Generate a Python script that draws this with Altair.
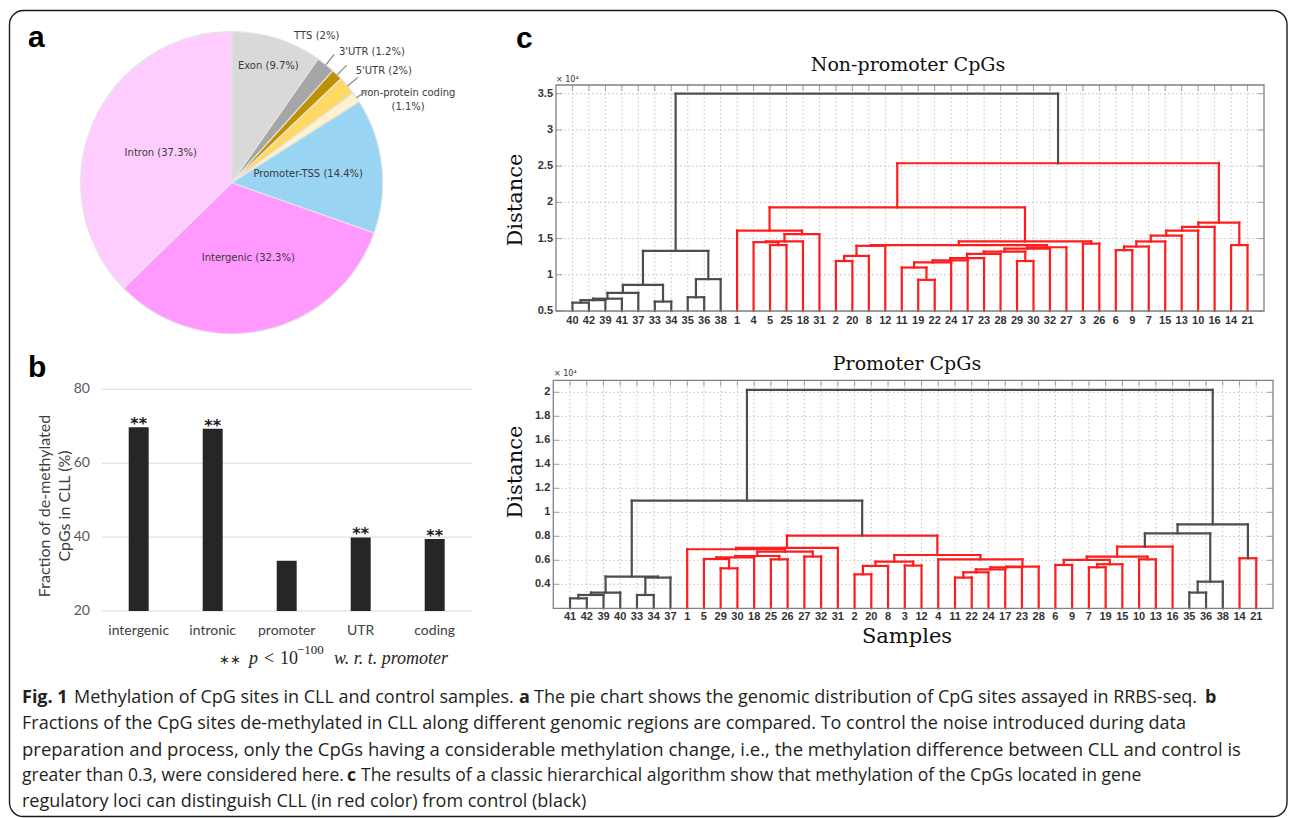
import altair as alt
import pandas as pd

# ----------------------------------------------------------------- data
# panel a : genomic distribution of CpG sites (pie)
pie_names = ["Exon", "TTS", "3'UTR", "5'UTR", "non-protein coding",
             "Promoter-TSS", "Intergenic", "Intron"]
pie_values = [9.7, 2, 1.2, 2, 1.1, 14.4, 32.3, 37.3]
pie_colors = ["#d9d9d9", "#a6a6a6", "#bf9000", "#ffd966", "#fff2cc",
              "#99d4f2", "#ff99ff", "#ffccff"]

# panel b : fraction of de-methylated CpGs
bar_cats = ["intergenic", "intronic", "promoter", "UTR", "coding"]
bar_values = [69.7, 69.3, 33.6, 39.9, 39.5]
bar_stars = ["**", "**", "", "**", "**"]
bar_ticks = [20, 40, 60, 80]

# panel c : dendrograms (leaf order + merges: id, left, right, height(x1e4), group)
np_leaves = [40, 42, 39, 41, 37, 33, 34, 35, 36, 38, 1, 4, 5, 25, 18, 31, 2, 20, 8, 12,
             11, 19, 22, 24, 17, 23, 28, 29, 30, 32, 27, 3, 26, 6, 9, 7, 15, 13, 10, 16, 14, 21]
np_merges = [
    ("B1", 40, 42, 0.615, "ctrl"), ("B2", "B1", 39, 0.65, "ctrl"), ("B3", "B2", 41, 0.67, "ctrl"),
    ("B4", "B3", 37, 0.75, "ctrl"), ("B5", 33, 34, 0.63, "ctrl"), ("B6", "B4", "B5", 0.86, "ctrl"),
    ("B7", 35, 36, 0.69, "ctrl"), ("B8", "B7", 38, 0.94, "ctrl"), ("B9", "B6", "B8", 1.33, "ctrl"),
    ("L1", 5, 25, 1.41, "CLL"), ("L2", 4, "L1", 1.45, "CLL"), ("L3", "L2", 18, 1.46, "CLL"),
    ("L4", "L3", 31, 1.56, "CLL"), ("L5", 1, "L4", 1.61, "CLL"),
    ("M1", 2, 20, 1.19, "CLL"), ("M2", "M1", 8, 1.26, "CLL"), ("M3", "M2", 12, 1.40, "CLL"),
    ("C1", 19, 22, 0.93, "CLL"), ("C2", 11, "C1", 1.10, "CLL"), ("C3", "C2", 24, 1.17, "CLL"),
    ("C4", "C3", 17, 1.20, "CLL"), ("C5", "C4", 23, 1.23, "CLL"), ("C6", "C5", 28, 1.29, "CLL"),
    ("C7", 29, 30, 1.19, "CLL"), ("C8", "C6", "C7", 1.32, "CLL"), ("C9", "C8", 32, 1.36, "CLL"),
    ("C10", "C9", 27, 1.38, "CLL"), ("M4", "M3", "C10", 1.41, "CLL"), ("M5", 3, 26, 1.43, "CLL"),
    ("M6", "M4", "M5", 1.46, "CLL"),
    ("R1", 6, 9, 1.34, "CLL"), ("R2", "R1", 7, 1.39, "CLL"), ("R3", "R2", 15, 1.46, "CLL"),
    ("R4", "R3", 13, 1.54, "CLL"), ("R5", "R4", 10, 1.61, "CLL"), ("R6", "R5", 16, 1.66, "CLL"),
    ("R7", 14, 21, 1.41, "CLL"), ("R8", "R6", "R7", 1.72, "CLL"),
    ("X1", "L5", "M6", 1.93, "CLL"), ("X2", "X1", "R8", 2.54, "CLL"),
    ("ROOT", "B9", "X2", 3.50, "ctrl"),
]
np_yticks = [0.5, 1, 1.5, 2, 2.5, 3, 3.5]
np_ylabels = ["0.5", "1", "1.5", "2", "2.5", "3", "3.5"]

pr_leaves = [41, 42, 39, 40, 33, 34, 37, 1, 5, 29, 30, 18, 25, 26, 27, 32, 31, 2, 20, 8, 3,
             12, 4, 11, 22, 24, 17, 23, 28, 6, 9, 7, 19, 15, 10, 13, 16, 35, 36, 38, 14, 21]
pr_merges = [
    ("P1", 41, 42, 0.283, "ctrl"), ("P2", "P1", 39, 0.311, "ctrl"), ("P3", "P2", 40, 0.331, "ctrl"),
    ("P4", 33, 34, 0.311, "ctrl"), ("P5", "P4", 37, 0.456, "ctrl"), ("P6", "P3", "P5", 0.464, "ctrl"),
    ("Q1", 29, 30, 0.533, "CLL"), ("Q2", 5, "Q1", 0.611, "CLL"), ("Q3", "Q2", 18, 0.625, "CLL"),
    ("Q4", 25, 26, 0.608, "CLL"), ("Q5", "Q3", "Q4", 0.636, "CLL"), ("Q6", 27, 32, 0.631, "CLL"),
    ("Q7", "Q5", "Q6", 0.672, "CLL"), ("Q8", 1, "Q7", 0.692, "CLL"), ("Q9", "Q8", 31, 0.703, "CLL"),
    ("S0", 2, 20, 0.483, "CLL"), ("S1", "S0", 8, 0.553, "CLL"), ("S2", 3, 12, 0.556, "CLL"),
    ("S3", "S1", "S2", 0.589, "CLL"),
    ("U0", 11, 22, 0.456, "CLL"), ("U1", "U0", 24, 0.50, "CLL"), ("U2", "U1", 17, 0.525, "CLL"),
    ("U3", "U2", 23, 0.542, "CLL"), ("U4", "U3", 28, 0.547, "CLL"), ("U5", 4, "U4", 0.608, "CLL"),
    ("U6", "S3", "U5", 0.644, "CLL"), ("RP", "Q9", "U6", 0.806, "CLL"),
    ("BL", "P6", "RP", 1.097, "ctrl"),
    ("T0", 6, 9, 0.561, "CLL"), ("T1", 7, 19, 0.542, "CLL"), ("T2", "T1", 15, 0.567, "CLL"),
    ("T3", "T0", "T2", 0.603, "CLL"), ("T4", 10, 13, 0.608, "CLL"), ("T5", "T3", "T4", 0.631, "CLL"),
    ("T6", "T5", 16, 0.714, "CLL"),
    ("K1", 35, 36, 0.331, "ctrl"), ("K2", "K1", 38, 0.422, "ctrl"),
    ("V1", "T6", "K2", 0.825, "ctrl"), ("W1", 14, 21, 0.617, "CLL"),
    ("V2", "V1", "W1", 0.90, "ctrl"), ("ROOT", "BL", "V2", 2.02, "ctrl"),
]
pr_yticks = [0.4, 0.6, 0.8, 1.0, 1.2, 1.4, 1.6, 1.8, 2.0]
pr_ylabels = ["0.4", "0.6", "0.8", "1", "1.2", "1.4", "1.6", "1.8", "2"]

caption_text = [
    "Fig. 1", "Methylation of CpG sites in CLL and control samples.", "a",
    "The pie chart shows the genomic distribution of CpG sites assayed in RRBS-seq.", "b",
    "Fractions of the CpG sites de-methylated in CLL along different genomic regions are compared. To control the noise introduced during data",
    "preparation and process, only the CpGs having a considerable methylation change, i.e., the methylation difference between CLL and control is",
    "greater than 0.3, were considered here.", "c",
    "The results of a classic hierarchical algorithm show that methylation of the CpGs located in gene",
    "regulatory loci can distinguish CLL (in red color) from control (black)",
]
caption_bold = [True, False, True, False, True, False, False, False, True, False, False]

# ----------------------------------------------------------------- layout / style
W, H = 1290, 818
RED, DARK = "#ff1c1c", "#4d4d4d"
CAP_X = [22, 74, 519, 534, 1205, 22, 22, 22, 347, 361, 22]
CAP_Y = [698] * 5 + [724, 750] + [776] * 3 + [802]
CAP_S = [18] * 5 + [18, 18.5] + [17.5] * 3 + [18]

layers = []

# ---------------- panel a
CX, CY, R = 231.7, 182.7, 151
TH = alt.Scale(domain=[0, 100], range=[0, 6.283185307], zero=False, nice=False)
pie_df = pd.DataFrame({"name": pie_names, "value": pie_values, "idx": list(range(len(pie_names)))})
pie_base = (alt.Chart(pie_df)
            .transform_joinaggregate(total="sum(value)")
            .transform_window(cum="sum(value)", sort=[alt.SortField("idx")], frame=[None, 0])
            .transform_calculate(start="100*(datum.cum - datum.value)/datum.total",
                                 end="100*datum.cum/datum.total",
                                 mid="100*(datum.cum - datum.value/2)/datum.total",
                                 mid2="100*(datum.cum - datum.value/2)/datum.total + 0.06",
                                 label="datum.name + ' (' + datum.value + '%)'",
                                 label2="datum.name + '\\n(' + datum.value + '%)'"))
arcs = pie_base.mark_arc(stroke="#e4e4e4", strokeWidth=1.2).encode(
    theta=alt.Theta("start:Q", scale=TH, stack=None), theta2="end:Q",
    color=alt.Color("name:N", scale=alt.Scale(domain=pie_names, range=pie_colors), legend=None),
    x=alt.value(CX), y=alt.value(CY), radius=alt.value(R))
layers.append(arcs)

lab_font = dict(font="DejaVu Sans", fontSize=10, color="#3a3a3a")


def pie_label(names, radius, ddx=0, ddy=0, field="label:N", **kw):
    return pie_base.transform_filter(
        alt.FieldOneOfPredicate(field="name", oneOf=names)
    ).mark_text(dx=ddx, dy=ddy, **lab_font, **kw).encode(
        theta=alt.Theta("mid:Q", scale=TH, stack=None), radius=alt.value(radius),
        x=alt.value(CX), y=alt.value(CY), text=field)


layers += [
    pie_label(["Promoter-TSS", "Intergenic", "Intron"], 77),
    pie_label(["Exon"], 122),
    pie_label(["TTS"], 175, -24, -10),
    pie_label(["3'UTR"], 175, 18, -5),
    pie_label(["5'UTR"], 175, 18, 1),
    pie_label(["non-protein coding"], 175, 32, 9, field="label2:N", lineBreak="\n", lineHeight=14),
]
leaders = pie_base.transform_filter(
    alt.FieldOneOfPredicate(field="name", oneOf=["TTS", "3'UTR", "5'UTR", "non-protein coding"])
).mark_arc(stroke="#8c8c8c", strokeWidth=0.8, fill="#8c8c8c").encode(
    theta=alt.Theta("mid:Q", scale=TH, stack=None), theta2="mid2:Q",
    radius=alt.value(R), radius2=alt.value(R + 13), x=alt.value(CX), y=alt.value(CY))
layers.append(leaders)


# ---------------- panel b
def BX():
    return alt.X("cat:N", axis=None, scale=alt.Scale(domain=bar_cats, range=[101.7, 471.7],
                                                     paddingInner=0.73, paddingOuter=0.365))


def BY(f):
    return alt.Y(f, axis=None, scale=alt.Scale(domain=[20, 80], range=[611, 389.3], nice=False, zero=False))


bar_df = pd.DataFrame({"cat": bar_cats, "val": bar_values, "star": bar_stars})
tick_df = pd.DataFrame({"t": bar_ticks, "lab": [str(t) for t in bar_ticks]})
layers += [
    alt.Chart(tick_df).mark_rule(color="#d9d9d9", strokeWidth=1).encode(
        y=BY("t:Q"), x=alt.value(101.7), x2=alt.value(471.7)),
    alt.Chart(bar_df).transform_calculate(base="20").mark_bar(color="#262626").encode(
        x=BX(), y=BY("val:Q"), y2="base:Q"),
    alt.Chart(bar_df).mark_text(font="DejaVu Sans", fontWeight="bold", fontSize=16,
                                baseline="alphabetic", dy=2, color="#1a1a1a").encode(
        x=BX(), y=BY("val:Q"), text="star:N"),
    alt.Chart(tick_df).mark_text(font="Lato", fontSize=14, align="right", baseline="middle",
                                 color="#595959").encode(y=BY("t:Q"), x=alt.value(90), text="lab:N"),
    alt.Chart(bar_df).mark_text(font="Lato", fontSize=14, baseline="middle", color="#404040").encode(
        x=BX(), y=alt.value(631), text="cat:N"),
]


# ---------------- panel c
def build_segments(leaves, merges):
    pos = {str(l): i + 1 for i, l in enumerate(leaves)}
    hgt = {str(l): 0.0 for l in leaves}
    rows = []
    for nid, a, b, h, grp in merges:
        a, b = str(a), str(b)
        xa, xb, ha, hb = pos[a], pos[b], hgt[a], hgt[b]
        rows += [{"x": xa, "x2": xa, "y": ha, "y2": h, "grp": grp},
                 {"x": xb, "x2": xb, "y": hb, "y2": h, "grp": grp},
                 {"x": xa, "x2": xb, "y": h, "y2": h, "grp": grp}]
        pos[nid] = (xa + xb) / 2
        hgt[nid] = h
    return pd.DataFrame(rows)


def dendrogram(leaves, merges, ydom, yticks, ylabels, xrange, yrange, leaf_y):
    n = len(leaves)
    xmax = n + 1

    def X(f):
        return alt.X(f, axis=None, scale=alt.Scale(domain=[0, xmax], range=xrange, nice=False, zero=False))

    def Y(f):
        return alt.Y(f, axis=None, scale=alt.Scale(domain=ydom, range=yrange, nice=False,
                                                    zero=False, clamp=True))

    leaf_df = pd.DataFrame({"pos": list(range(1, n + 1)), "name": [str(l) for l in leaves],
                            "y0": ydom[0], "y1": ydom[1]})
    yt_df = pd.DataFrame({"t": yticks, "lab": ylabels, "x0": 0, "x1": xmax})
    box_df = pd.DataFrame({"x0": [0], "x1": [xmax], "y0": [ydom[0]], "y1": [ydom[1]]})
    gcol, tcol = "#c4c4c4", "#808080"
    return [
        alt.Chart(leaf_df).mark_rule(color=gcol, strokeDash=[1.5, 2.5], strokeWidth=1).encode(
            x=X("pos:Q"), y=Y("y0:Q"), y2="y1:Q"),
        alt.Chart(yt_df).mark_rule(color=gcol, strokeDash=[1.5, 2.5], strokeWidth=1).encode(
            y=Y("t:Q"), x=X("x0:Q"), x2="x1:Q"),
        alt.Chart(leaf_df).mark_tick(orient="vertical", size=6, thickness=1, yOffset=3, color=tcol).encode(
            x=X("pos:Q"), y=Y("y1:Q")),
        alt.Chart(leaf_df).mark_tick(orient="vertical", size=6, thickness=1, yOffset=-3, color=tcol).encode(
            x=X("pos:Q"), y=Y("y0:Q")),
        alt.Chart(yt_df).mark_tick(orient="horizontal", size=6, thickness=1, xOffset=3, color=tcol).encode(
            y=Y("t:Q"), x=X("x0:Q")),
        alt.Chart(yt_df).mark_tick(orient="horizontal", size=6, thickness=1, xOffset=-3, color=tcol).encode(
            y=Y("t:Q"), x=X("x1:Q")),
        alt.Chart(build_segments(leaves, merges)).mark_rule(strokeWidth=2.2, strokeCap="square").encode(
            x=X("x:Q"), x2="x2:Q", y=Y("y:Q"), y2="y2:Q",
            color=alt.Color("grp:N", scale=alt.Scale(domain=["CLL", "ctrl"], range=[RED, DARK]),
                            legend=None)),
        alt.Chart(box_df).mark_rect(fillOpacity=0, stroke="#808080", strokeWidth=1.3).encode(
            x=X("x0:Q"), x2="x1:Q", y=Y("y0:Q"), y2="y1:Q"),
        alt.Chart(leaf_df).mark_text(font="Liberation Sans", fontWeight="bold", fontSize=11,
                                     baseline="middle", color="#333333").encode(
            x=X("pos:Q"), y=alt.value(leaf_y), text="name:N"),
        alt.Chart(yt_df).mark_text(font="Liberation Sans", fontWeight="bold", fontSize=11,
                                   align="right", baseline="middle", color="#333333").encode(
            y=Y("t:Q"), x=alt.value(xrange[0] - 3), text="lab:N"),
    ]


layers += dendrogram(np_leaves, np_merges, [0.5, 3.62], np_yticks, np_ylabels,
                     [556, 1264], [311, 85], 320.5)
layers += dendrogram(pr_leaves, pr_merges, [0.2, 2.1], pr_yticks, pr_ylabels,
                     [553.3, 1273], [608.3, 380.3], 617)


# ---------------- text annotations
def txt(s, x, y, **kw):
    return alt.Chart(pd.DataFrame({"s": [s]})).mark_text(**kw).encode(
        x=alt.value(x), y=alt.value(y), text="s:N")


serif = dict(font="DejaVu Serif", color="#111111")
math = dict(font="Liberation Serif", color="#262626", align="left", baseline="alphabetic")
layers += [
    txt("Non-promoter CpGs", 908, 65, fontSize=19, baseline="middle", **serif),
    txt("Promoter CpGs", 907, 364, fontSize=19, baseline="middle", **serif),
    txt("Samples", 907, 637, fontSize=21, baseline="middle", **serif),
    txt("Distance", 516, 200, fontSize=21, angle=270, baseline="middle", **serif),
    txt("Distance", 516, 472, fontSize=21, angle=270, baseline="middle", **serif),
    txt("× 10⁴", 556, 80, fontSize=8, align="left", baseline="middle", font="DejaVu Sans", color="#333"),
    txt("× 10⁴", 554, 374, fontSize=8, align="left", baseline="middle", font="DejaVu Sans", color="#333"),
    txt("Fraction of de-methylated", 45, 506, fontSize=16, angle=270, baseline="middle",
        font="Lato", color="#404040"),
    txt("CpGs in CLL (%)", 65, 506, fontSize=16, angle=270, baseline="middle", font="Lato", color="#404040"),
    txt("∗∗", 219, 664, fontSize=13, font="DejaVu Sans", color="#262626", align="left",
        baseline="alphabetic"),
    txt("p", 249, 664, fontSize=18, fontStyle="italic", **math),
    txt("<", 264, 664, fontSize=18, **math),
    txt("10", 280, 664, fontSize=18, **math),
    txt("−100", 297, 654, fontSize=13, **math),
    txt("w. r. t. promoter", 334, 664, fontSize=18, fontStyle="italic", **math),
    txt("a", 28, 47, fontSize=30, fontWeight="bold", align="left", baseline="alphabetic",
        font="Liberation Sans", color="#000"),
    txt("b", 28, 377, fontSize=30, fontWeight="bold", align="left", baseline="alphabetic",
        font="Liberation Sans", color="#000"),
    txt("c", 516, 48, fontSize=30, fontWeight="bold", align="left", baseline="alphabetic",
        font="Liberation Sans", color="#000"),
]

for s, b, px, py, fs in zip(caption_text, caption_bold, CAP_X, CAP_Y, CAP_S):
    layers.append(txt(s, px, py, font="Open Sans", fontSize=fs, align="left", baseline="middle",
                      color="#231f20", fontWeight="bold" if b else "normal"))

border = alt.Chart(pd.DataFrame({"k": [0]})).mark_rect(
    fillOpacity=0, stroke="#1a1a1a", strokeWidth=1.4, cornerRadius=14).encode(
    x=alt.value(9.5), x2=alt.value(1287), y=alt.value(10.5), y2=alt.value(816.5))
layers.append(border)

chart = alt.layer(*layers).resolve_scale(
    x="independent", y="independent", color="independent", theta="independent"
).properties(
    width=W, height=H, padding=0, background="white",
    autosize=alt.AutoSizeParams(type="none")
).configure_view(stroke=None)

chart.save("out.html", embed_options={"renderer": "svg", "actions": False})
